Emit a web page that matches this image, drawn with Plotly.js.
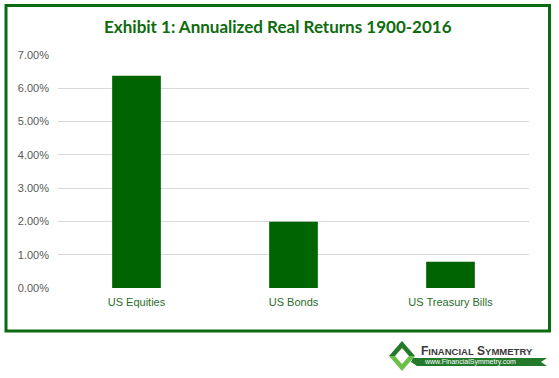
<!DOCTYPE html>
<html><head><meta charset="utf-8">
<script src="https://cdn.plot.ly/plotly-3.0.1.min.js"></script>
<style>html,body{margin:0;padding:0;background:#fff}#c{width:559px;height:378px}</style>
</head><body><div id="c"></div>
<script>
const categories = ["US Equities", "US Bonds", "US Treasury Bills"];
const returns = [0.0638, 0.0199, 0.0079];
const yTicks = [0, 0.01, 0.02, 0.03, 0.04, 0.05, 0.06, 0.07];

const W = 559, H = 378, L = 58, R = 30, T = 55, B = 90;
const pw = W - L - R, ph = H - T - B;
const px = x => (x - L) / pw;
const py = y => (H - B - y) / ph;
const P = pts => 'M ' + pts.map(p => px(p[0]) + ',' + py(p[1])).join(' L ') + ' Z';

const cx = 402, cy = 356, hw = 13, hh = 15, iw = 7, ih = 8;
const shapes = [
  {type:'rect', xref:'paper', yref:'paper', x0:px(6), x1:px(549.5), y0:py(331), y1:py(5.5),
   line:{color:'#0b6b12', width:3}, fillcolor:'rgba(0,0,0,0)', layer:'above'},
  {type:'path', xref:'paper', yref:'paper', path:P([[cx-hw,cy],[cx,cy-hh],[cx+hw,cy]]), fillcolor:'#237a2b', line:{width:0}},
  {type:'path', xref:'paper', yref:'paper', path:P([[cx-hw,cy],[cx,cy+hh],[cx+hw,cy]]), fillcolor:'#6cc04a', line:{width:0}},
  {type:'path', xref:'paper', yref:'paper', path:P([[cx-iw,cy],[cx,cy-ih],[cx+iw,cy],[cx,cy+ih]]), fillcolor:'#ffffff', line:{width:0}},
  {type:'path', xref:'paper', yref:'paper', path:P([[413,358],[547,358],[541,362],[547,366],[417,366],[411,362]]), fillcolor:'#237a2b', line:{width:0}}
];

const data = [{
  type:'bar', x:categories, y:returns,
  marker:{color:'#006400'}, hoverinfo:'skip'
}];

const layout = {
  width:W, height:H,
  margin:{l:L, r:R, t:T, b:B},
  paper_bgcolor:'#ffffff', plot_bgcolor:'#ffffff',
  showlegend:false,
  bargap:0.69,
  title:{text:'Exhibit 1: Annualized Real Returns 1900-2016', xref:'container', yref:'container',
         x:0.497, y:1-27/H, xanchor:'center', yanchor:'middle',
         font:{family:'Lato, "Open Sans", sans-serif', size:17, color:'#0e6b0e', weight:'bold'}},
  xaxis:{type:'category', showline:false, showgrid:false, zeroline:false, ticks:'', ticklabelstandoff:6,
         tickfont:{family:'"Liberation Sans", Arial, sans-serif', size:11, color:'#2a6e2a'}},
  yaxis:{range:[0,0.07], tickvals:yTicks, tickformat:'.2%', showline:false, zeroline:false,
         gridcolor:'#d9d9d9', gridwidth:1, ticks:'', ticklabelstandoff:8,
         tickfont:{family:'"Liberation Sans", Arial, sans-serif', size:11, color:'#595959'}},
  shapes:shapes,
  annotations:[
    {xref:'paper', yref:'paper', x:px(419), y:py(351), xanchor:'left', yanchor:'middle', showarrow:false,
     text:'F<span style="font-size:9.5px">INANCIAL</span> S<span style="font-size:9.5px">YMMETRY</span>',
     font:{family:'"Liberation Sans", Arial, sans-serif', size:12, color:'#3a3a3a', weight:'bold'}},
    {xref:'paper', yref:'paper', x:px(422), y:py(362), xanchor:'left', yanchor:'middle', showarrow:false,
     text:'www.FinancialSymmetry.com',
     font:{family:'"Liberation Sans", Arial, sans-serif', size:7, color:'#ffffff'}}
  ]
};

Plotly.newPlot('c', data, layout, {staticPlot:true, displayModeBar:false});
</script></body></html>
